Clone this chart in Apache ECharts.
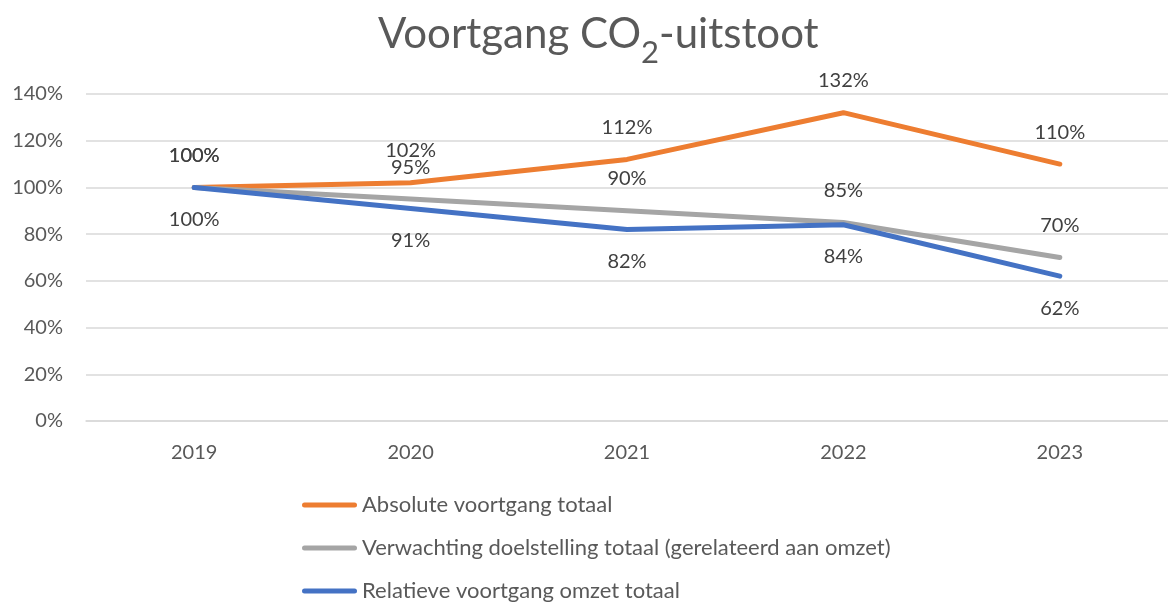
<!DOCTYPE html>
<html>
<head>
<meta charset="utf-8">
<script src="https://cdn.jsdelivr.net/npm/echarts@6/dist/echarts.min.js"></script>
<style>
html, body { margin: 0; padding: 0; background: #fff; }
#chart { width: 1168px; height: 602px; }
</style>
</head>
<body>
<div id="chart"></div>
<script>
var years = ['2019', '2020', '2021', '2022', '2023'];
var absolute = [100, 102, 112, 132, 110];
var expected = [100, 95, 90, 85, 70];
var relative = [100, 91, 82, 84, 62];
var names = [
    'Absolute voortgang totaal',
    'Verwachting doelstelling totaal (gerelateerd aan omzet)',
    'Relatieve voortgang omzet totaal'
];

var FONT = 'Lato';
var myChart = echarts.init(document.getElementById('chart'));

var make_series = function(name, data, color, pos){
    return {
        name: name,
        type: 'line',
        data: data,
        symbol: 'circle',
        symbolSize: 0,
        showSymbol: true,
        lineStyle: { color: color, width: 5, cap: 'round', join: 'round' },
        itemStyle: { color: color },
        label: {
            show: true,
            position: pos,
            distance: 22,
            formatter: '{c}%',
            color: '#404040',
            fontFamily: FONT,
            fontSize: 20
        },
        emphasis: { disabled: true }
    };
};

// rounded bar used as legend line icon
var legend_icon = 'path://M2.5,0 L52.5,0 A2.5,2.5 0 0 1 52.5,5 L2.5,5 A2.5,2.5 0 0 1 2.5,0 Z';

var option = {
    animation: false,
    title: {
        text: '{m|Voortgang CO}{sub|2}{m|-uitstoot}',
        left: 373,
        top: 8,
        textStyle: {
            fontWeight: 'normal',
            rich: {
                m: {
                    color: '#595959',
                    fontFamily: FONT,
                    fontSize: 42,
                    fontWeight: 'normal',
                    verticalAlign: 'top'
                },
                sub: {
                    color: '#595959',
                    fontFamily: FONT,
                    fontSize: 31,
                    fontWeight: 'normal',
                    verticalAlign: 'top',
                    padding: [24, 0, 0, 0]
                }
            }
        }
    },
    grid: { left: 86, top: 94, width: 1088, bottom: 181, containLabel: false },
    legend: {
        orient: 'vertical',
        left: 297,
        top: 489,
        height: 200,
        itemWidth: 55,
        itemHeight: 5,
        itemGap: 21,
        icon: legend_icon,
        textStyle: {
            color: '#595959',
            fontFamily: FONT,
            fontSize: 22
        },
        data: names
    },
    xAxis: {
        type: 'category',
        data: years,
        boundaryGap: true,
        axisLine: { lineStyle: { color: '#D9D9D9', width: 1.5 } },
        axisTick: { show: false },
        axisLabel: { color: '#595959', fontFamily: FONT, fontSize: 20, margin: 22 }
    },
    yAxis: {
        type: 'value',
        min: 0,
        max: 140,
        interval: 20,
        axisLine: { show: false },
        axisTick: { show: false },
        splitLine: { lineStyle: { color: '#D9D9D9', width: 1.5 } },
        axisLabel: {
            color: '#595959',
            fontFamily: FONT,
            fontSize: 20,
            margin: 23,
            formatter: '{value}%'
        }
    },
    series: [
        make_series(names[0], absolute, '#ED7D31', 'top'),
        make_series(names[1], expected, '#A5A5A5', 'top'),
        make_series(names[2], relative, '#4472C4', 'bottom')
    ]
};

myChart.setOption(option);
</script>
</body>
</html>
